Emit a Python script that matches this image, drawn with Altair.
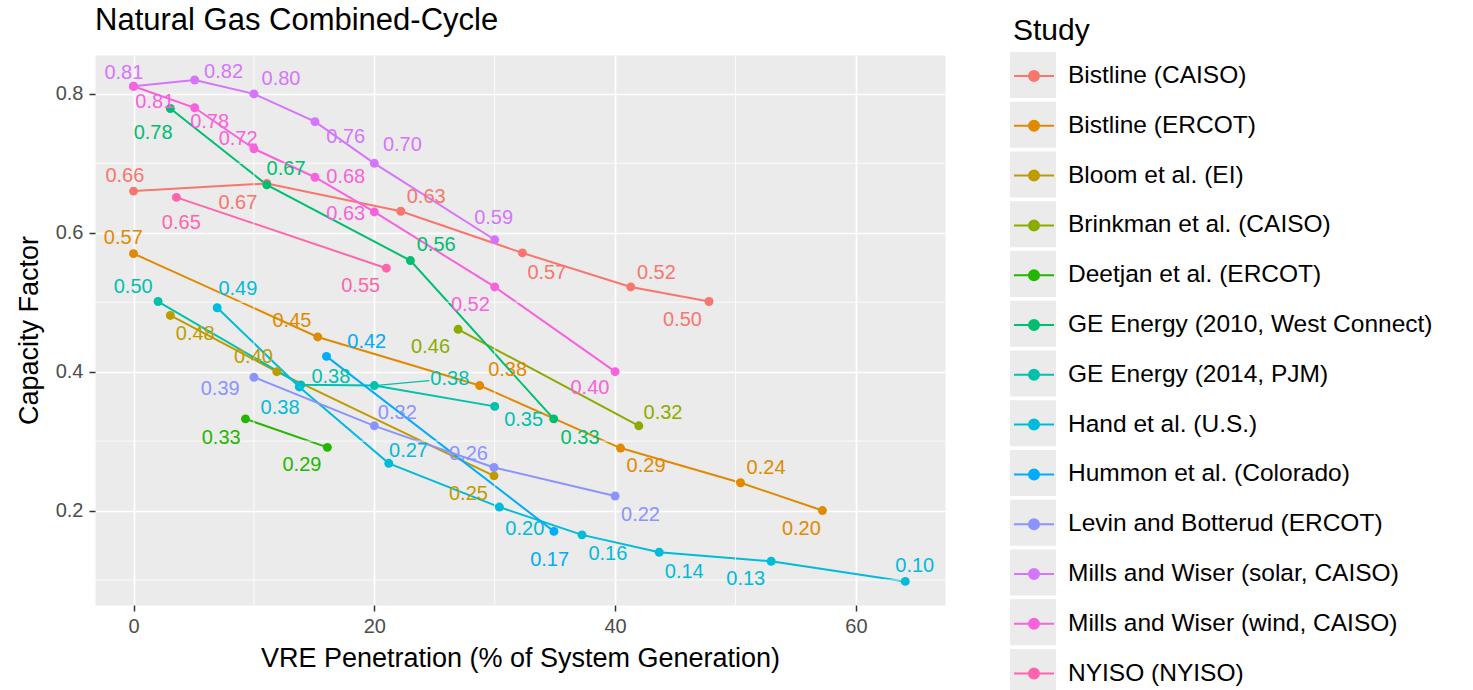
import altair as alt
import pandas as pd

studies = ["Bistline (CAISO)", "Bistline (ERCOT)", "Bloom et al. (EI)", "Brinkman et al. (CAISO)",
           "Deetjan et al. (ERCOT)", "GE Energy (2010, West Connect)", "GE Energy (2014, PJM)",
           "Hand et al. (U.S.)", "Hummon et al. (Colorado)", "Levin and Botterud (ERCOT)",
           "Mills and Wiser (solar, CAISO)", "Mills and Wiser (wind, CAISO)", "NYISO (NYISO)"]
colors = ["#F8766D", "#E18A00", "#BE9C00", "#8CAB00", "#24B700", "#00BE70", "#00C1AB",
          "#00BBDA", "#00ACFC", "#8B93FF", "#D575FE", "#F962DD", "#FF65AC"]

penetration = [
    [0, 11.07, 22.2, 32.3, 41.3, 47.8],
    [0, 15.3, 28.75, 40.45, 50.42, 57.22],
    [3.06, 11.9, 29.94],
    [26.96, 41.97],
    [9.3, 16.1],
    [3.06, 11.07, 23.0, 34.9],
    [2.04, 13.9, 20.0, 30.0],
    [6.95, 13.77, 21.2, 30.39, 37.25, 43.66, 52.96, 64.1],
    [16.03, 34.92],
    [10, 20, 29.94, 40],
    [0, 5.08, 10, 15.07, 20, 30],
    [0, 5.08, 10, 15.07, 20, 30, 40],
    [3.56, 21.0],
]
capacity = [
    [0.66, 0.671, 0.631, 0.571, 0.522, 0.501],
    [0.57, 0.45, 0.38, 0.29, 0.24, 0.20],
    [0.481, 0.40, 0.25],
    [0.461, 0.322],
    [0.332, 0.291],
    [0.779, 0.669, 0.56, 0.332],
    [0.501, 0.381, 0.38, 0.35],
    [0.492, 0.378, 0.268, 0.205, 0.165, 0.14, 0.127, 0.098],
    [0.422, 0.17],
    [0.392, 0.322, 0.262, 0.221],
    [0.811, 0.82, 0.80, 0.76, 0.70, 0.59],
    [0.811, 0.78, 0.721, 0.68, 0.63, 0.522, 0.40],
    [0.651, 0.549],
]
labels = [
    ["0.66", "0.67", "0.63", "0.57", "0.52", "0.50"],
    ["0.57", "0.45", "0.38", "0.29", "0.24", "0.20"],
    ["0.48", "0.40", "0.25"],
    ["0.46", "0.32"],
    ["0.33", "0.29"],
    ["0.78", "0.67", "0.56", "0.33"],
    ["0.50", "0.38", "0.38", "0.35"],
    ["0.49", "0.38", "0.27", "0.20", "0.16", "0.14", "0.13", "0.10"],
    ["0.42", "0.17"],
    ["0.39", "0.32", "0.26", "0.22"],
    ["0.81", "0.82", "0.80", "0.76", "0.70", "0.59"],
    ["0.81", "0.78", "0.72", "0.68", "0.63", "0.52", "0.40"],
    ["0.65", "0.55"],
]
label_x = [
    [-0.72, 8.67, 24.31, 34.33, 43.43, 45.59],
    [-0.85, 13.16, 31.07, 42.57, 52.54, 55.47],
    [5.13, 9.96, 27.82],
    [24.67, 43.98],
    [7.28, 13.99],
    [1.63, 12.67, 25.14, 37.09],
    [-0.03, 16.39, 26.27, 32.4],
    [8.67, 12.17, 22.84, 32.5, 39.4, 45.74, 50.85, 64.89],
    [19.37, 34.56],
    [7.2, 21.91, 27.82, 42.11],
    [-0.80, 7.48, 12.25, 17.63, 22.33, 29.91],
    [1.77, 6.32, 8.69, 17.63, 17.63, 27.98, 37.91],
    [3.97, 18.87],
]
label_y = [
    [0.682, 0.643, 0.652, 0.542, 0.542, 0.474],
    [0.592, 0.473, 0.403, 0.264, 0.261, 0.174],
    [0.454, 0.421, 0.224],
    [0.436, 0.341],
    [0.305, 0.265],
    [0.743, 0.692, 0.582, 0.305],
    [0.522, 0.393, 0.389, 0.330],
    [0.519, 0.347, 0.286, 0.174, 0.138, 0.112, 0.101, 0.120],
    [0.443, 0.129],
    [0.375, 0.340, 0.281, 0.194],
    [0.830, 0.831, 0.822, 0.738, 0.726, 0.622],
    [0.789, 0.760, 0.735, 0.680, 0.627, 0.496, 0.376],
    [0.614, 0.524],
]
connectors = [(6, 2)]

x_major = [0, 20, 40, 60]
x_minor = [10, 30, 50]
y_major = [0.2, 0.4, 0.6, 0.8]
y_minor = [0.1, 0.3, 0.5, 0.7]

rows = []
for si, s in enumerate(studies):
    for i in range(len(penetration[si])):
        rows.append(dict(Study=s, key=str(si), x=penetration[si][i], y=capacity[si][i],
                         lx=label_x[si][i], ly=label_y[si][i], label=labels[si][i], order=i))
df = pd.DataFrame(rows)

seg = pd.DataFrame([dict(Study=studies[si], x=penetration[si][pi], y=capacity[si][pi],
                         x2=label_x[si][pi] - 1.7, y2=label_y[si][pi] - 0.002)
                    for si, pi in connectors])

FONT = "Liberation Sans"
xscale = alt.Scale(domain=[-3.2, 67.4], nice=False, zero=False)
yscale = alt.Scale(domain=[0.064, 0.856], nice=False, zero=False)

axis_common = dict(gridColor="white", gridOpacity=1, gridWidth=1.7, domain=False,
                   tickSize=6, tickWidth=1.5, tickColor="#333333",
                   labelFontSize=20, labelColor="#4d4d4d", labelFont=FONT,
                   titleFontSize=27, titleFont=FONT, titleFontWeight="normal", titleColor="black")
xaxis = alt.Axis(values=x_major, title="VRE Penetration (% of System Generation)",
                 labelPadding=5, titlePadding=9, **axis_common)
yaxis = alt.Axis(values=y_major, format=".1f", title="Capacity Factor",
                 labelPadding=6, titlePadding=12, **axis_common)

color_legend = alt.Legend(
    title="Study", titleFontSize=30, titleFont=FONT, titleFontWeight="normal", titleColor="black",
    titlePadding=9, orient="none", legendX=918, legendY=-39, padding=0,
    symbolType="M-1,0H1M-0.25,0a0.25,0.25 0 1,0 0.5,0a0.25,0.25 0 1,0 -0.5,0",
    symbolSize=1600, symbolStrokeWidth=2, symbolOpacity=1, rowPadding=16.8, labelOffset=13,
    labelFontSize=24.5, labelFont=FONT, labelColor="black", labelLimit=0, zindex=2,
)
color = alt.Color("Study:N", scale=alt.Scale(domain=studies, range=colors), legend=color_legend)
color_nolegend = alt.Color("Study:N", scale=alt.Scale(domain=studies, range=colors), legend=None)

X = alt.X("x:Q", scale=xscale, axis=xaxis)
Y = alt.Y("y:Q", scale=yscale, axis=yaxis)

minor_x = alt.Chart(pd.DataFrame({"v": x_minor})).mark_rule(color="white", strokeWidth=0.8).encode(x="v:Q")
minor_y = alt.Chart(pd.DataFrame({"v": y_minor})).mark_rule(color="white", strokeWidth=0.8).encode(y="v:Q")

lines = alt.Chart(df).mark_line(strokeWidth=2).encode(x=X, y=Y, color=color, order="order:Q")
connect = alt.Chart(seg).mark_rule(strokeWidth=1.2).encode(
    x="x:Q", y="y:Q", x2="x2:Q", y2="y2:Q", color=color_nolegend)
points = alt.Chart(df).mark_circle(size=80, opacity=1).encode(x="x:Q", y="y:Q", color=color)
texts = alt.Chart(df).mark_text(fontSize=20, font=FONT, align="center", baseline="middle").encode(
    x="lx:Q", y="ly:Q", text="label:N", color=color_nolegend)

# grey key boxes behind the legend symbols (a second legend, with empty labels)
bg_legend = alt.Legend(
    title="\u00a0", titleFontSize=30, titleFont=FONT, titleFontWeight="normal",
    titlePadding=9, orient="none", legendX=915, legendY=-42, padding=0,
    symbolType="square", symbolSize=2116, rowPadding=3.75, labelExpr="''",
    symbolFillColor="#ebebeb", symbolStrokeColor="#ebebeb", symbolStrokeWidth=0, symbolOpacity=1,
    labelFontSize=24.5, labelFont=FONT, labelLimit=0, zindex=1,
)
bg = alt.Chart(df).mark_point(size=0, filled=True, color="#ebebeb").encode(
    x="x:Q", y="y:Q",
    shape=alt.Shape("key:N", scale=alt.Scale(range=["square"]), legend=bg_legend),
)

chart = alt.layer(lines, minor_x, minor_y, connect, points, texts, bg).properties(
    width=850, height=550, background="white",
    title=alt.TitleParams("Natural Gas Combined-Cycle", anchor="start", frame="group",
                          fontSize=31, font=FONT, fontWeight="normal", color="black",
                          offset=0, dy=48, baseline="alphabetic"),
    autosize=alt.AutoSizeParams(type="none"),
    padding={"left": 95, "top": 55, "right": 528, "bottom": 85},
).configure_view(fill="#EBEBEB", stroke="transparent")

chart.save("out.html", embed_options={"renderer": "svg", "actions": False})
